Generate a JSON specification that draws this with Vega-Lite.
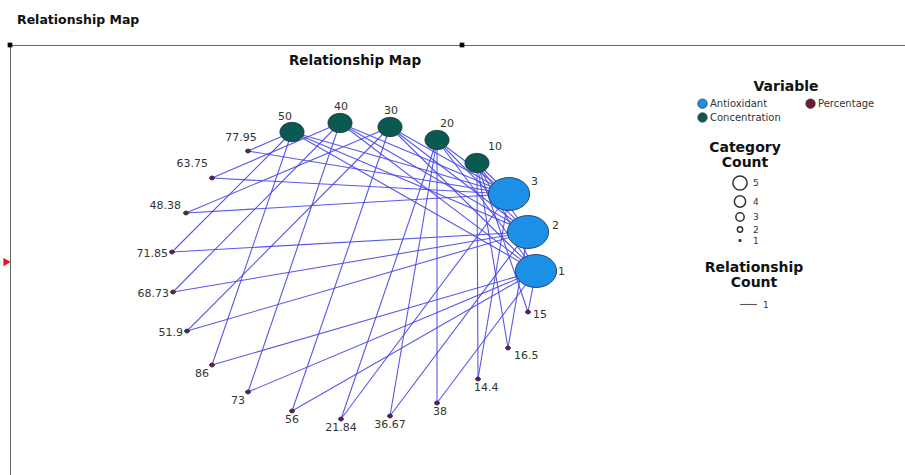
{
  "$schema": "https://vega.github.io/schema/vega-lite/v6.json",
  "width": 896,
  "height": 431,
  "autosize": "none",
  "padding": {"left": 10, "top": 45, "right": 0, "bottom": 0},
  "background": "white",
  "title": {"text": "Relationship Map", "anchor": "start", "frame": "group", "dx": 7, "offset": 6, "baseline": "alphabetic", "fontSize": 12.5, "fontWeight": "bold", "font": "DejaVu Sans", "color": "#111"},
  "config": {
    "view": {"stroke": "#666", "strokeWidth": 1},
    "legend": {"padding": 0, "titleFont": "DejaVu Sans", "labelFont": "DejaVu Sans", "titleColor": "#111", "labelColor": "#333"}
  },
  "data": {"values": [
    {"id": "A1", "label": "1", "variable": "Antioxidant", "count": 5, "x": 181, "y": -1, "links": [{"e": "A1-C10", "n": 1}, {"e": "A1-C20", "n": 1}, {"e": "A1-C30", "n": 1}, {"e": "A1-C40", "n": 1}, {"e": "A1-C50", "n": 1}, {"e": "P15-A1", "n": 1}, {"e": "P38-A1", "n": 1}, {"e": "P56-A1", "n": 1}, {"e": "P73-A1", "n": 1}, {"e": "P86-A1", "n": 1}]},
    {"id": "A2", "label": "2", "variable": "Antioxidant", "count": 5, "x": 173, "y": 38, "links": [{"e": "A2-C10", "n": 1}, {"e": "A2-C20", "n": 1}, {"e": "A2-C30", "n": 1}, {"e": "A2-C40", "n": 1}, {"e": "A2-C50", "n": 1}, {"e": "P16.5-A2", "n": 1}, {"e": "P36.67-A2", "n": 1}, {"e": "P51.9-A2", "n": 1}, {"e": "P68.73-A2", "n": 1}, {"e": "P71.85-A2", "n": 1}]},
    {"id": "A3", "label": "3", "variable": "Antioxidant", "count": 5, "x": 154, "y": 76, "links": [{"e": "A3-C10", "n": 1}, {"e": "A3-C20", "n": 1}, {"e": "A3-C30", "n": 1}, {"e": "A3-C40", "n": 1}, {"e": "A3-C50", "n": 1}, {"e": "P14.4-A3", "n": 1}, {"e": "P21.84-A3", "n": 1}, {"e": "P48.38-A3", "n": 1}, {"e": "P63.75-A3", "n": 1}, {"e": "P77.95-A3", "n": 1}]},
    {"id": "C10", "label": "10", "variable": "Concentration", "count": 3, "x": 122, "y": 107, "links": [{"e": "A1-C10", "n": 1}, {"e": "A2-C10", "n": 1}, {"e": "A3-C10", "n": 1}, {"e": "P15-C10", "n": 1}, {"e": "P16.5-C10", "n": 1}, {"e": "P14.4-C10", "n": 1}]},
    {"id": "C20", "label": "20", "variable": "Concentration", "count": 3, "x": 82, "y": 130, "links": [{"e": "A1-C20", "n": 1}, {"e": "A2-C20", "n": 1}, {"e": "A3-C20", "n": 1}, {"e": "P38-C20", "n": 1}, {"e": "P36.67-C20", "n": 1}, {"e": "P21.84-C20", "n": 1}]},
    {"id": "C30", "label": "30", "variable": "Concentration", "count": 3, "x": 35, "y": 143, "links": [{"e": "A1-C30", "n": 1}, {"e": "A2-C30", "n": 1}, {"e": "A3-C30", "n": 1}, {"e": "P56-C30", "n": 1}, {"e": "P51.9-C30", "n": 1}, {"e": "P48.38-C30", "n": 1}]},
    {"id": "C40", "label": "40", "variable": "Concentration", "count": 3, "x": -15, "y": 147, "links": [{"e": "A1-C40", "n": 1}, {"e": "A2-C40", "n": 1}, {"e": "A3-C40", "n": 1}, {"e": "P73-C40", "n": 1}, {"e": "P68.73-C40", "n": 1}, {"e": "P63.75-C40", "n": 1}]},
    {"id": "C50", "label": "50", "variable": "Concentration", "count": 3, "x": -63, "y": 138, "links": [{"e": "A1-C50", "n": 1}, {"e": "A2-C50", "n": 1}, {"e": "A3-C50", "n": 1}, {"e": "P86-C50", "n": 1}, {"e": "P71.85-C50", "n": 1}, {"e": "P77.95-C50", "n": 1}]},
    {"id": "P15", "label": "15", "variable": "Percentage", "count": 1, "x": 173, "y": -42, "links": [{"e": "P15-A1", "n": 1}, {"e": "P15-C10", "n": 1}]},
    {"id": "P16.5", "label": "16.5", "variable": "Percentage", "count": 1, "x": 153, "y": -78, "links": [{"e": "P16.5-A2", "n": 1}, {"e": "P16.5-C10", "n": 1}]},
    {"id": "P14.4", "label": "14.4", "variable": "Percentage", "count": 1, "x": 123, "y": -109, "links": [{"e": "P14.4-A3", "n": 1}, {"e": "P14.4-C10", "n": 1}]},
    {"id": "P38", "label": "38", "variable": "Percentage", "count": 1, "x": 82, "y": -133, "links": [{"e": "P38-A1", "n": 1}, {"e": "P38-C20", "n": 1}]},
    {"id": "P36.67", "label": "36.67", "variable": "Percentage", "count": 1, "x": 35, "y": -146, "links": [{"e": "P36.67-A2", "n": 1}, {"e": "P36.67-C20", "n": 1}]},
    {"id": "P21.84", "label": "21.84", "variable": "Percentage", "count": 1, "x": -14, "y": -149, "links": [{"e": "P21.84-A3", "n": 1}, {"e": "P21.84-C20", "n": 1}]},
    {"id": "P56", "label": "56", "variable": "Percentage", "count": 1, "x": -63, "y": -141, "links": [{"e": "P56-A1", "n": 1}, {"e": "P56-C30", "n": 1}]},
    {"id": "P73", "label": "73", "variable": "Percentage", "count": 1, "x": -107, "y": -122, "links": [{"e": "P73-A1", "n": 1}, {"e": "P73-C40", "n": 1}]},
    {"id": "P86", "label": "86", "variable": "Percentage", "count": 1, "x": -143, "y": -95, "links": [{"e": "P86-A1", "n": 1}, {"e": "P86-C50", "n": 1}]},
    {"id": "P51.9", "label": "51.9", "variable": "Percentage", "count": 1, "x": -168, "y": -61, "links": [{"e": "P51.9-A2", "n": 1}, {"e": "P51.9-C30", "n": 1}]},
    {"id": "P68.73", "label": "68.73", "variable": "Percentage", "count": 1, "x": -182, "y": -22, "links": [{"e": "P68.73-A2", "n": 1}, {"e": "P68.73-C40", "n": 1}]},
    {"id": "P71.85", "label": "71.85", "variable": "Percentage", "count": 1, "x": -183, "y": 18, "links": [{"e": "P71.85-A2", "n": 1}, {"e": "P71.85-C50", "n": 1}]},
    {"id": "P48.38", "label": "48.38", "variable": "Percentage", "count": 1, "x": -169, "y": 57, "links": [{"e": "P48.38-A3", "n": 1}, {"e": "P48.38-C30", "n": 1}]},
    {"id": "P63.75", "label": "63.75", "variable": "Percentage", "count": 1, "x": -143, "y": 92, "links": [{"e": "P63.75-A3", "n": 1}, {"e": "P63.75-C40", "n": 1}]},
    {"id": "P77.95", "label": "77.95", "variable": "Percentage", "count": 1, "x": -107, "y": 119, "links": [{"e": "P77.95-A3", "n": 1}, {"e": "P77.95-C50", "n": 1}]}
  ]},
  "encoding": {
    "x": {"field": "x", "type": "quantitative", "scale": {"domain": [-345, 551], "nice": false, "zero": false}, "axis": null},
    "y": {"field": "y", "type": "quantitative", "scale": {"domain": [-206, 225], "nice": false, "zero": false}, "axis": null}
  },
  "layer": [
    {
      "transform": [{"flatten": ["links"]}],
      "mark": {"type": "line", "color": "#4646e6", "opacity": 0.9, "strokeCap": "round"},
      "encoding": {
        "detail": {"field": "links.e", "type": "nominal"},
        "strokeWidth": {"field": "links.n", "type": "quantitative", "scale": {"domain": [0, 1], "range": [0, 1.1]},
          "legend": {"title": ["Relationship", "Count"], "values": [1], "format": "d", "orient": "none", "legendX": 695, "legendY": 216, "symbolType": "stroke", "symbolSize": 290, "symbolStrokeColor": "#444", "titleFontSize": 14, "titleFontWeight": "bold", "titleAnchor": "middle", "titleAlign": "center", "titleLineHeight": 15, "titlePadding": 5, "labelFontSize": 9, "labelOffset": 5,
            "encode": {"symbols": {"update": {"stroke": {"value": "#444"}, "opacity": {"value": 1}, "strokeWidth": {"value": 1}}}}}}
      }
    },
    {
      "mark": {"type": "point", "filled": true, "shape": "M -1.25 0 A 1.25 1 0 1 0 1.25 0 A 1.25 1 0 1 0 -1.25 0 Z", "stroke": "#1e2f45", "strokeWidth": 0.8, "opacity": 1},
      "encoding": {
        "color": {"field": "variable", "type": "nominal",
          "scale": {"domain": ["Antioxidant", "Concentration", "Percentage"], "range": ["#1c8fe6", "#0b5a52", "#6e1a3f"]},
          "legend": {"title": "Variable", "values": ["Antioxidant", "Concentration", "Percentage"], "orient": "none", "legendX": 687, "legendY": 35, "columns": 2, "columnPadding": 23, "rowPadding": 1, "symbolType": "circle", "symbolSize": 90, "symbolStrokeColor": "#333", "symbolStrokeWidth": 0.7, "labelFontSize": 10, "labelOffset": 2, "titleFontSize": 14, "titleFontWeight": "bold", "titleAnchor": "middle", "titleAlign": "center", "titlePadding": 4}},
        "size": {"field": "count", "type": "quantitative", "scale": {"type": "pow", "exponent": 2, "domain": [1, 5], "range": [16, 1089]}, "legend": null}
      }
    },
    {
      "mark": {"type": "point", "filled": false, "shape": "circle", "color": "#333", "strokeWidth": 0.8, "opacity": 0},
      "encoding": {
        "size": {"field": "count", "type": "quantitative", "scale": {"type": "pow", "exponent": 2, "domain": [1, 5], "range": [3, 201]},
          "legend": {"title": ["Category", "Count"], "values": [5, 4, 3, 2, 1], "orient": "none", "legendX": 699, "legendY": 96, "symbolOpacity": 1, "labelFontSize": 9, "labelOffset": 5, "labelColor": "#333", "titleFontSize": 14, "titleFontWeight": "bold", "titleAnchor": "middle", "titleAlign": "center", "titleLineHeight": 15, "titlePadding": 5, "rowPadding": -2,
            "encode": {"symbols": {"update": {"opacity": {"value": 1}, "strokeOpacity": {"value": 1}, "stroke": {"value": "#333"}}}}}}
      }
    },
    {"transform": [{"filter": {"field": "id", "oneOf": ["A3"]}}], "mark": {"type": "text", "align": "left", "baseline": "middle", "dx": 22, "dy": -12, "font": "DejaVu Sans", "fontSize": 11, "color": "#333"}, "encoding": {"text": {"field": "label"}}},
    {"transform": [{"filter": {"field": "id", "oneOf": ["A2"]}}], "mark": {"type": "text", "align": "left", "baseline": "middle", "dx": 24, "dy": -6, "font": "DejaVu Sans", "fontSize": 11, "color": "#333"}, "encoding": {"text": {"field": "label"}}},
    {"transform": [{"filter": {"field": "id", "oneOf": ["A1"]}}], "mark": {"type": "text", "align": "left", "baseline": "middle", "dx": 22, "dy": 1, "font": "DejaVu Sans", "fontSize": 11, "color": "#333"}, "encoding": {"text": {"field": "label"}}},
    {"transform": [{"filter": {"field": "id", "oneOf": ["C50"]}}], "mark": {"type": "text", "align": "center", "baseline": "middle", "dx": -7, "dy": -15, "font": "DejaVu Sans", "fontSize": 11, "color": "#333"}, "encoding": {"text": {"field": "label"}}},
    {"transform": [{"filter": {"field": "id", "oneOf": ["C40", "C30"]}}], "mark": {"type": "text", "align": "center", "baseline": "middle", "dx": 1, "dy": -16, "font": "DejaVu Sans", "fontSize": 11, "color": "#333"}, "encoding": {"text": {"field": "label"}}},
    {"transform": [{"filter": {"field": "id", "oneOf": ["C20"]}}], "mark": {"type": "text", "align": "center", "baseline": "middle", "dx": 10, "dy": -16, "font": "DejaVu Sans", "fontSize": 11, "color": "#333"}, "encoding": {"text": {"field": "label"}}},
    {"transform": [{"filter": {"field": "id", "oneOf": ["C10"]}}], "mark": {"type": "text", "align": "center", "baseline": "middle", "dx": 18, "dy": -16, "font": "DejaVu Sans", "fontSize": 11, "color": "#333"}, "encoding": {"text": {"field": "label"}}},
    {"transform": [{"filter": {"field": "id", "oneOf": ["P15"]}}], "mark": {"type": "text", "align": "left", "baseline": "middle", "dx": 5, "dy": 3, "font": "DejaVu Sans", "fontSize": 11, "color": "#333"}, "encoding": {"text": {"field": "label"}}},
    {"transform": [{"filter": {"field": "id", "oneOf": ["P16.5"]}}], "mark": {"type": "text", "align": "left", "baseline": "middle", "dx": 6, "dy": 8, "font": "DejaVu Sans", "fontSize": 11, "color": "#333"}, "encoding": {"text": {"field": "label"}}},
    {"transform": [{"filter": {"field": "id", "oneOf": ["P14.4", "P38"]}}], "mark": {"type": "text", "align": "left", "baseline": "middle", "dx": -4, "dy": 9, "font": "DejaVu Sans", "fontSize": 11, "color": "#333"}, "encoding": {"text": {"field": "label"}}},
    {"transform": [{"filter": {"field": "id", "oneOf": ["P36.67", "P21.84", "P56"]}}], "mark": {"type": "text", "align": "center", "baseline": "middle", "dx": 0, "dy": 9, "font": "DejaVu Sans", "fontSize": 11, "color": "#333"}, "encoding": {"text": {"field": "label"}}},
    {"transform": [{"filter": {"field": "id", "oneOf": ["P73", "P86"]}}], "mark": {"type": "text", "align": "center", "baseline": "middle", "dx": -10, "dy": 9, "font": "DejaVu Sans", "fontSize": 11, "color": "#333"}, "encoding": {"text": {"field": "label"}}},
    {"transform": [{"filter": {"field": "id", "oneOf": ["P51.9", "P68.73", "P71.85"]}}], "mark": {"type": "text", "align": "right", "baseline": "middle", "dx": -4, "dy": 2, "font": "DejaVu Sans", "fontSize": 11, "color": "#333"}, "encoding": {"text": {"field": "label"}}},
    {"transform": [{"filter": {"field": "id", "oneOf": ["P48.38"]}}], "mark": {"type": "text", "align": "right", "baseline": "middle", "dx": -5, "dy": -7, "font": "DejaVu Sans", "fontSize": 11, "color": "#333"}, "encoding": {"text": {"field": "label"}}},
    {"transform": [{"filter": {"field": "id", "oneOf": ["P63.75"]}}], "mark": {"type": "text", "align": "right", "baseline": "middle", "dx": -4, "dy": -14, "font": "DejaVu Sans", "fontSize": 11, "color": "#333"}, "encoding": {"text": {"field": "label"}}},
    {"transform": [{"filter": {"field": "id", "oneOf": ["P77.95"]}}], "mark": {"type": "text", "align": "center", "baseline": "middle", "dx": -7, "dy": -13, "font": "DejaVu Sans", "fontSize": 11, "color": "#333"}, "encoding": {"text": {"field": "label"}}},
    {"transform": [{"filter": {"field": "id", "oneOf": ["A1"]}}], "mark": {"type": "text", "text": "Relationship Map", "align": "center", "baseline": "middle", "font": "DejaVu Sans", "fontSize": 13.5, "fontWeight": "bold", "color": "#111"}, "encoding": {"x": {"datum": 0, "type": "quantitative"}, "y": {"datum": 209, "type": "quantitative"}}},
    {"transform": [{"filter": {"field": "id", "oneOf": ["A1"]}}], "mark": {"type": "point", "shape": "square", "filled": true, "size": 22, "color": "#000", "opacity": 1}, "encoding": {"x": {"datum": -345, "type": "quantitative"}, "y": {"datum": 225, "type": "quantitative"}}},
    {"transform": [{"filter": {"field": "id", "oneOf": ["A1"]}}], "mark": {"type": "point", "shape": "square", "filled": true, "size": 22, "color": "#000", "opacity": 1}, "encoding": {"x": {"datum": 107, "type": "quantitative"}, "y": {"datum": 225, "type": "quantitative"}}},
    {"transform": [{"filter": {"field": "id", "oneOf": ["A1"]}}], "mark": {"type": "point", "shape": "triangle-right", "filled": true, "size": 70, "color": "#e8141c", "opacity": 1}, "encoding": {"x": {"datum": -348, "type": "quantitative"}, "y": {"datum": 8, "type": "quantitative"}}}
  ],
  "resolve": {"scale": {"size": "independent"}}
}
